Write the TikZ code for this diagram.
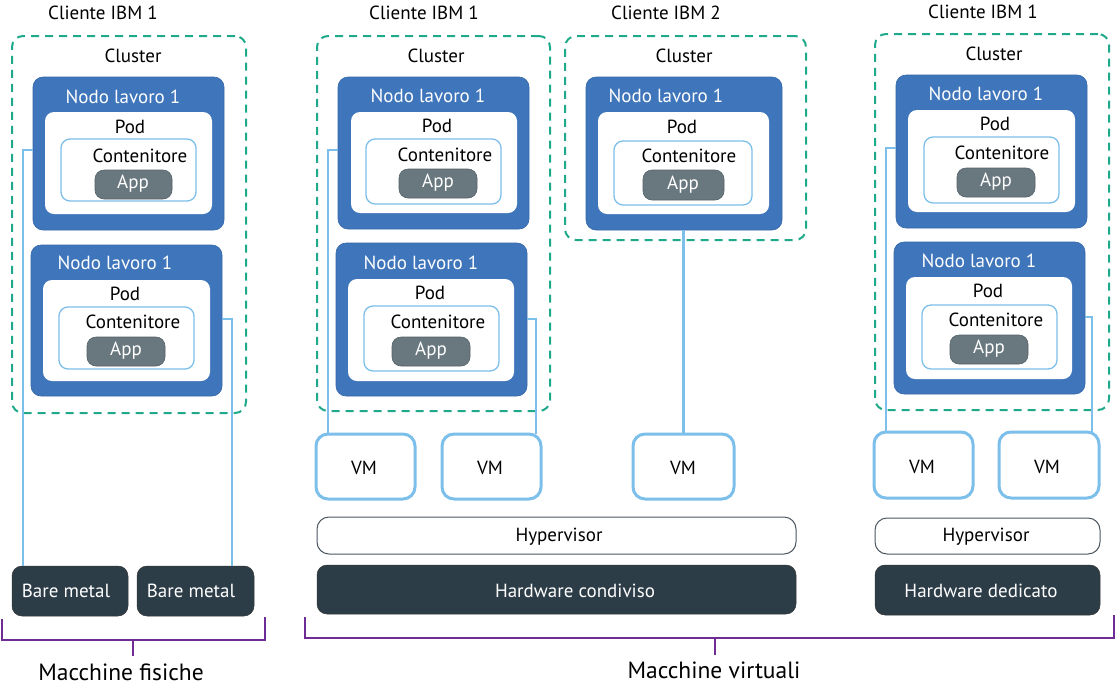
\documentclass[tikz,border=0pt]{standalone}
\usepackage{fontspec}
\setmainfont{PT Sans}
\definecolor{nblue}{HTML}{3F75BB}
\definecolor{nblueD}{HTML}{3467A8}
\definecolor{lblue}{HTML}{7CBFEA}
\definecolor{appg}{HTML}{69777F}
\definecolor{appgD}{HTML}{566269}
\definecolor{darkhw}{HTML}{2D3D48}
\definecolor{hypb}{HTML}{4A5560}
\definecolor{teal}{HTML}{1EA98B}
\definecolor{purp}{HTML}{6E2C94}
\newcommand\RB[6]{\node[#2, minimum width={#5-#3}, minimum height={#6-#4}] (#1) at ({(#3+#5)/2},{(#4+#6)/2}) {};}
\tikzset{
  every node/.style={inner sep=0pt, outer sep=0pt},
  clusterbox/.style={draw=teal, line width=2pt, dash pattern=on 8pt off 6pt, rounded corners=11pt},
  workerbox/.style={fill=nblue, draw=nblueD, line width=0.6pt, rounded corners=10pt},
  podbox/.style={fill=white, rounded corners=9pt},
  contbox/.style={fill=white, draw=lblue, line width=1.3pt, rounded corners=9pt},
  appbox/.style={fill=appg, draw=appgD, line width=0.6pt, rounded corners=9pt},
  vmbox/.style={fill=white, draw=lblue, line width=3pt, rounded corners=12pt},
  hypbox/.style={fill=white, draw=hypb, line width=1pt, rounded corners=12pt},
  hwbox/.style={fill=darkhw, draw=black!80, line width=0.5pt, rounded corners=10pt},
  link/.style={draw=lblue, line width=2.6pt},
  bracketline/.style={draw=purp, line width=1.8pt},
  txt/.style={font=\fontsize{19}{21}\selectfont, text=black},
  wtxt/.style={font=\fontsize{19}{21}\selectfont, text=white},
  bigtxt/.style={font=\fontsize{23.5}{26}\selectfont, text=black},
}
\begin{document}
\begin{tikzpicture}[x=1pt, y=-1pt]
\useasboundingbox (0,0) rectangle (1116,686);

% ---------------- Group 1: physical ----------------
\node[txt] (t1) at (103,13) {Cliente IBM 1};
\RB{cl1}{clusterbox}{12}{36}{246}{413}
\node[txt] (cl1t) at (133,56) {Cluster};
% worker 1
\RB{w1a}{workerbox}{33}{77}{224}{230}
\node[wtxt] at (123,97) {Nodo lavoro 1};
\RB{p1a}{podbox}{45}{112}{212}{214}
\node[txt] at (130,127) {Pod};
\RB{c1a}{contbox}{61}{139}{196}{201}
\node[txt] at (140,156) {Contenitore};
\RB{a1a}{appbox}{95}{170}{172}{199}
\node[wtxt] at (133,184) {App};
% worker 2
\RB{w1b}{workerbox}{31}{245}{222}{396}
\node[wtxt] at (115,263) {Nodo lavoro 1};
\RB{p1b}{podbox}{43}{280}{210}{381}
\node[txt] at (125,294) {Pod};
\RB{c1b}{contbox}{59}{307}{194}{369}
\node[txt] at (133,322) {Contenitore};
\RB{a1b}{appbox}{87}{337}{165}{366}
\node[wtxt] at (126,351) {App};
% bare metal
\RB{bm1}{hwbox}{12}{566}{128}{616}
\node[wtxt] at (66,591) {Bare metal};
\RB{bm2}{hwbox}{137}{566}{254}{616}
\node[wtxt] at (191,591) {Bare metal};
\draw[link] ([yshift=-73pt]w1a.north west) -| ([xshift=11pt]bm1.north west);
\draw[link] ([yshift=-74pt]w1b.north east) -| ([xshift=-22pt]bm2.north east);
% bracket
\node[bigtxt] (mf) at (121,672) {Macchine fisiche};
\draw[bracketline] (2,619) |- (265,640) -- (265,617);
\draw[bracketline] (133,640) -- (133,656);

% ---------------- Group 2: virtual shared, client 1 ----------------
\node[txt] (t2) at (424,13) {Cliente IBM 1};
\RB{cl2}{clusterbox}{317}{36}{550}{411}
\node[txt] at (436,56) {Cluster};
\RB{w2a}{workerbox}{338}{77}{529}{229}
\node[wtxt] at (428,96) {Nodo lavoro 1};
\RB{p2a}{podbox}{351}{112}{517}{213}
\node[txt] at (437,126) {Pod};
\RB{c2a}{contbox}{366}{139}{501}{204}
\node[txt] at (445,155) {Contenitore};
\RB{a2a}{appbox}{399}{169}{477}{198}
\node[wtxt] at (438,183) {App};
\RB{w2b}{workerbox}{336}{243}{527}{396}
\node[wtxt] at (421,263) {Nodo lavoro 1};
\RB{p2b}{podbox}{348}{279}{514}{381}
\node[txt] at (430,293) {Pod};
\RB{c2b}{contbox}{364}{306}{499}{371}
\node[txt] at (438,322) {Contenitore};
\RB{a2b}{appbox}{392}{337}{470}{366}
\node[wtxt] at (431,351) {App};
\RB{vm1}{vmbox}{316}{434}{415}{499}
\node[txt] at (364,468) {VM};
\RB{vm2}{vmbox}{442}{434}{541}{499}
\node[txt] at (490,468) {VM};
\draw[link] ([yshift=-73pt]w2a.north west) -| ([xshift=12pt]vm1.north west);
\draw[link] ([yshift=-76pt]w2b.north east) -| ([xshift=-5pt]vm2.north east);

% ---------------- Group 3: virtual shared, client 2 ----------------
\node[txt] (t3) at (666,13) {Cliente IBM 2};
\RB{cl3}{clusterbox}{565}{36}{806}{240}
\node[txt] at (684,56) {Cluster};
\RB{w3}{workerbox}{586}{77}{782}{230}
\node[wtxt] at (666,96) {Nodo lavoro 1};
\RB{p3}{podbox}{598}{112}{769}{214}
\node[txt] at (682,127) {Pod};
\RB{c3}{contbox}{614}{141}{752}{205}
\node[txt] at (689,156) {Contenitore};
\RB{a3}{appbox}{643}{170}{724}{200}
\node[wtxt] at (683,185) {App};
\RB{vm3}{vmbox}{633}{434}{734}{499}
\node[txt] at (683,468) {VM};
\draw[link] (w3.south -| vm3.north) -- (vm3.north);

% shared hypervisor & hardware
\RB{hyp1}{hypbox}{317}{517}{796}{554}
\node[txt] at (559,537) {Hypervisor};
\RB{hw1}{hwbox}{317}{565}{796}{614}
\node[wtxt] at (575,591) {Hardware condiviso};

% ---------------- Group 4: virtual dedicated ----------------
\node[txt] (t4) at (983,12) {Cliente IBM 1};
\RB{cl4}{clusterbox}{875}{34}{1109}{410}
\node[txt] at (994,54) {Cluster};
\RB{w4a}{workerbox}{896}{75}{1087}{228}
\node[wtxt] at (986,94) {Nodo lavoro 1};
\RB{p4a}{podbox}{908}{110}{1075}{212}
\node[txt] at (995,124) {Pod};
\RB{c4a}{contbox}{924}{137}{1059}{203}
\node[txt] at (1002,153) {Contenitore};
\RB{a4a}{appbox}{957}{168}{1035}{197}
\node[wtxt] at (996,182) {App};
\RB{w4b}{workerbox}{894}{242}{1085}{394}
\node[wtxt] at (979,261) {Nodo lavoro 1};
\RB{p4b}{podbox}{906}{277}{1072}{379}
\node[txt] at (988,291) {Pod};
\RB{c4b}{contbox}{922}{305}{1057}{369}
\node[txt] at (996,320) {Contenitore};
\RB{a4b}{appbox}{950}{335}{1028}{364}
\node[wtxt] at (989,349) {App};
\RB{vm4}{vmbox}{874}{432}{973}{498}
\node[txt] at (922,467) {VM};
\RB{vm5}{vmbox}{999}{432}{1099}{498}
\node[txt] at (1047,467) {VM};
\draw[link] ([yshift=-73pt]w4a.north west) -| ([xshift=12pt]vm4.north west);
\draw[link] ([yshift=-75pt]w4b.north east) -| ([xshift=-7pt]vm5.north east);
\RB{hyp2}{hypbox}{875}{518}{1100}{554}
\node[txt] at (986,537) {Hypervisor};
\RB{hw2}{hwbox}{875}{565}{1100}{615}
\node[wtxt] at (981,591) {Hardware dedicato};

% bracket virtual
\node[bigtxt] (mv) at (714,670) {Macchine virtuali};
\draw[bracketline] (305,617) |- (1114,638) -- (1114,615);
\draw[bracketline] (715,638) -- (715,655);
\end{tikzpicture}
\end{document}
